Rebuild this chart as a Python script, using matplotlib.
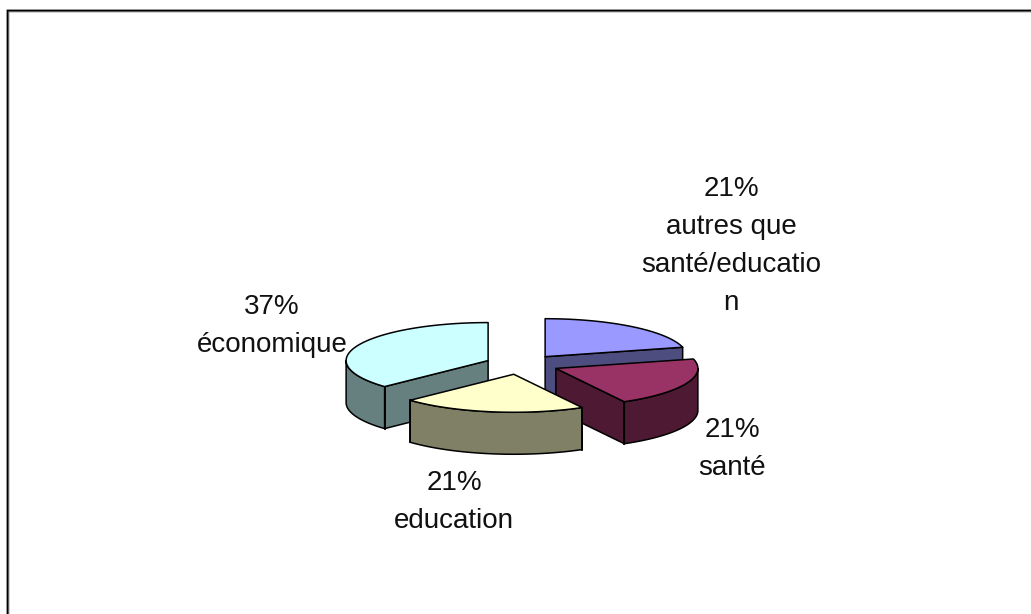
#!/usr/bin/env python3
# camembert 3D eclate, projete a la main (matplotlib n'a pas de pie 3D)
import numpy as np
import matplotlib
matplotlib.use("Agg")
import matplotlib.pyplot as plt
from matplotlib.patches import Polygon

categories = ["autres que\nsanté/educatio\nn", "santé", "education", "économique"]
values = [21, 21, 21, 37]
top_colors = ["#9999ff", "#993366", "#ffffcc", "#ccffff"]
side_colors = ["#4d4d80", "#4d1933", "#808066", "#668080"]

# position des etiquettes, pixels
label_pos = [(731, 246), (732, 449), (454, 502), (272, 326)]
draw_order = [0, 3, 1, 2]
nudge_x = [0.5, 0, -2.5, 0]

cx, cy = 522, 364.5
a, b = 142, 38
depth = 42
explode = 0.26

plt.rcParams['font.family'] = ['Liberation Sans', 'DejaVu Sans']

fig = plt.figure(figsize=(10.31, 6.14), dpi=100)
ax = fig.add_axes([0, 0, 1, 1])
ax.set_xlim(0, 1031)
ax.set_ylim(614, 0)
ax.axis('off')

# cadre du graphique (haut et gauche seulement dans l'image)
ax.plot([8.6, 8.6, 1031], [614, 11.6, 11.6], color='#999999', lw=1.2, snap=False)
ax.plot([7.5, 7.5, 1031], [614, 10.5, 10.5], color='black', lw=1.3, snap=False,
        solid_joinstyle='miter')


def pt(x0, y0, t):
    return x0 + a * np.sin(t), y0 - b * np.cos(t)


shares = np.array(values) / sum(values) * 2 * np.pi
ends = np.cumsum(shares)
starts = ends - shares

for i in draw_order:
    t0, t1 = starts[i], ends[i]
    m = (t0 + t1) / 2
    x0 = cx + explode * a * np.sin(m) + nudge_x[i]
    y0 = cy - explode * b * np.cos(m)

    # faces coupees visibles
    for t in (t0, t1):
        ex, ey = pt(x0, y0, t)
        visible = (t == t1 and t1 < np.pi) or (t == t0 and t0 > np.pi)
        if visible:
            ax.add_patch(Polygon([(x0, y0), (ex, ey), (ex, ey + depth), (x0, y0 + depth)],
                                 fc=side_colors[i], ec='black', lw=1.1, joinstyle='round'))

    # paroi exterieure, partie avant seulement
    w0, w1 = max(t0, np.pi / 2), min(t1, 3 * np.pi / 2)
    if w1 > w0:
        tt = np.linspace(w0, w1, 60)
        xs, ys = pt(x0, y0, tt)
        wall = np.concatenate([np.column_stack([xs, ys]),
                               np.column_stack([xs, ys + depth])[::-1]])
        ax.add_patch(Polygon(wall, fc=side_colors[i], ec='black', lw=1.1, joinstyle='round'))
        # aretes verticales des coins
        for t in (w0, w1):
            if t in (t0, t1):
                ex, ey = pt(x0, y0, t)
                ax.plot([ex, ex], [ey, ey + depth], color='black', lw=1.3)

    # dessus
    tt = np.linspace(t0, t1, 80)
    xs, ys = pt(x0, y0, tt)
    top = np.vstack([[x0, y0], np.column_stack([xs, ys])])
    ax.add_patch(Polygon(top, fc=top_colors[i], ec='black', lw=1.1, joinstyle='round'))

for v, name, (lx, ly) in zip(values, categories, label_pos):
    ax.text(lx, ly, f"{v}%\n{name}", ha='center', va='center', fontsize=20,
            color='#111111', linespacing=1.59)

fig.savefig("out.png", dpi=100)
